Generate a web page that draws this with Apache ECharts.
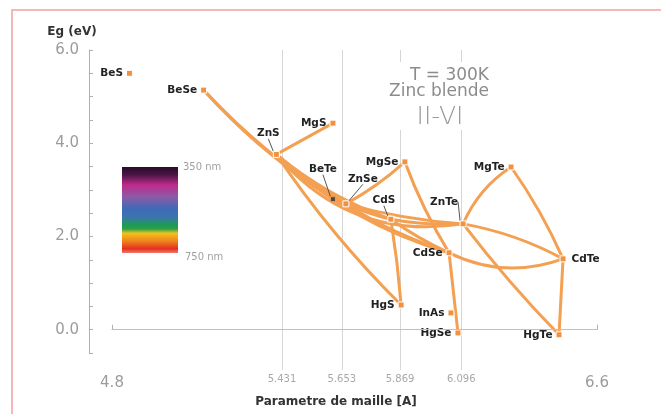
<!DOCTYPE html>
<html>
<head>
<meta charset="utf-8">
<script src="https://cdn.jsdelivr.net/npm/echarts@6/dist/echarts.min.js"></script>
<style>
  html, body { margin: 0; padding: 0; background: #fff; }
  #chart { width: 661px; height: 414px; }
</style>
</head>
<body>
<div id="chart"></div>
<script>
// II-VI zinc blende compounds: lattice constant (Å) and band gap Eg (eV) at 300 K
const compounds = ['BeS', 'BeSe', 'ZnS', 'MgS', 'BeTe', 'ZnSe', 'MgSe', 'CdS',
                   'ZnTe', 'CdSe', 'MgTe', 'CdTe', 'HgTe', 'HgSe', 'InAs', 'HgS'];
const latticeA = [4.865, 5.14, 5.41, 5.62, 5.62, 5.668, 5.887, 5.835,
                  6.103, 6.051, 6.281, 6.474, 6.459, 6.084, 6.058, 5.873];
const gapEv = [5.50, 5.14, 3.76, 4.43, 2.80, 2.70, 3.60, 2.37,
               2.27, 1.65, 3.49, 1.52, -0.11, -0.07, 0.36, 0.53];

// Ternary alloys drawn between two binary compounds
const alloyLinks = [
  ['BeSe', 'ZnSe'], ['BeSe', 'BeTe'], ['BeSe', 'CdSe'],
  ['ZnS', 'MgS'], ['ZnS', 'ZnSe'], ['ZnS', 'CdS'], ['ZnS', 'CdSe'], ['ZnS', 'HgS'], ['ZnS', 'ZnTe'],
  ['ZnSe', 'MgSe'], ['ZnSe', 'ZnTe'], ['ZnSe', 'CdSe'], ['ZnSe', 'CdS'],
  ['MgSe', 'CdSe'], ['CdS', 'CdSe'], ['CdS', 'HgS'], ['CdS', 'ZnTe'],
  ['CdSe', 'HgSe'], ['CdSe', 'CdTe'],
  ['ZnTe', 'MgTe'], ['MgTe', 'CdTe'], ['ZnTe', 'CdTe'], ['ZnTe', 'HgTe'], ['HgTe', 'CdTe']
];

// Axis ticks
const gapTicks = [0, 2, 4, 6];
const latticeEnds = [4.8, 6.6];
const latticeTicks = [5.431, 5.653, 5.869, 6.096];

// ---- drawing style ----
// bowing of each alloy curve (ECharts curveness, taken from the left end to the right end)
const linkCurveness = [
  -0.08, -0.06, -0.13,
  0, -0.05, -0.09, -0.12, -0.05, -0.28,
  -0.06, -0.05, -0.07, -0.05,
  -0.05, -0.05, 0.02, -0.06,
  0, -0.21,
  0.15, 0.05, 0.08, -0.03, 0
];
// crowded labels moved away from their marker and tied to it with a leader line
const leaderLabels = { ZnS: [-8, -21], BeTe: [-10, -30], ZnSe: [17, -25], CdS: [-7, -19], ZnTe: [-19, -22] };
const labelShift = { CdSe: [0, 3], HgTe: [0, 2], HgSe: [0, 2], HgS: [0, 3], CdTe: [0, 2] };
const rightLabels = ['CdTe'];

const ORANGE = '#f4a053';
const GRID_GREY = '#d6d6d6';
const AXIS_GREY = '#b0b0b0';

const pointOf = name => {
  const i = compounds.indexOf(name);
  return [latticeA[i], gapEv[i]];
};

const linkData = alloyLinks.map((pair, i) => {
  let a = pointOf(pair[0]);
  let b = pointOf(pair[1]);
  if (a[0] > b[0]) { const t = a; a = b; b = t; }
  return { coords: [a, b], lineStyle: { curveness: linkCurveness[i] } };
});

const pointData = compounds.map((name, i) => {
  const item = { name: name, value: [latticeA[i], gapEv[i]] };
  if (leaderLabels[name]) {
    item.label = { position: 'inside' };
    item.labelLine = { show: true };
  } else if (rightLabels.indexOf(name) >= 0) {
    item.label = { position: 'right', distance: 5, offset: labelShift[name] || [0, 0] };
  } else if (labelShift[name]) {
    item.label = { offset: labelShift[name] };
  }
  if (name === 'BeTe') {
    item.itemStyle = { color: '#4a4a4a', borderColor: ORANGE, borderWidth: 1 };
    item.symbolSize = 5;
  }
  return item;
});

const chart = echarts.init(document.getElementById('chart'), null, { renderer: 'canvas' });

chart.setOption({
  animation: false,
  backgroundColor: '#ffffff',
  grid: { left: 112, right: 64, top: 50, bottom: 61, containLabel: false },
  xAxis: [
    {
      type: 'value', min: 4.8, max: 6.6, position: 'bottom', offset: 17,
      axisLine: { show: true, lineStyle: { color: AXIS_GREY, width: 1 } },
      axisTick: { show: true, inside: true, length: 5, customValues: latticeEnds, lineStyle: { color: AXIS_GREY } },
      axisLabel: {
        customValues: latticeEnds, formatter: v => v.toFixed(1), margin: 6,
        fontFamily: 'DejaVu Sans', fontSize: 15, color: '#9c9c9c'
      },
      splitLine: { show: false },
      name: 'Parametre de maille [A]', nameLocation: 'middle', nameGap: 18,
      nameTextStyle: { fontFamily: 'DejaVu Sans', fontWeight: 'bold', fontSize: 12, color: '#333', padding: [0, 37, 0, 0] }
    },
    {
      type: 'value', min: 4.8, max: 6.6, position: 'bottom', offset: 17,
      axisLine: { show: false },
      axisTick: { show: true, inside: true, length: 17, customValues: latticeTicks, lineStyle: { color: GRID_GREY } },
      axisLabel: {
        customValues: latticeTicks, formatter: v => v.toFixed(3), margin: 4,
        fontFamily: 'DejaVu Sans', fontSize: 10, color: '#a8a8a8'
      },
      splitLine: { show: true, lineStyle: { color: GRID_GREY, width: 1 } }
    }
  ],
  yAxis: {
    type: 'value', min: -0.5, max: 6, interval: 0.5, position: 'left', offset: 23,
    axisLine: { show: true, lineStyle: { color: AXIS_GREY, width: 1 } },
    axisTick: { show: true, inside: true, length: 4, lineStyle: { color: AXIS_GREY } },
    axisLabel: {
      customValues: gapTicks, formatter: v => v.toFixed(1), margin: 10,
      fontFamily: 'DejaVu Sans', fontSize: 15, color: '#9c9c9c'
    },
    splitLine: { show: false },
    name: 'Eg (eV)', nameLocation: 'end', nameGap: 12,
    nameTextStyle: { fontFamily: 'DejaVu Sans', fontWeight: 'bold', fontSize: 12, color: '#333', align: 'center', padding: [0, 34, 0, 0] }
  },
  graphic: [
    {
      type: 'rect', silent: true, z: 0,
      shape: { x: 12, y: 10, width: 700, height: 460 },
      style: { fill: 'none', stroke: '#f2a0a0', lineWidth: 1.5 }
    },
    {
      type: 'rect', silent: true, z: 5,
      shape: { x: 122, y: 167, width: 56, height: 86 },
      style: {
        fill: {
          type: 'linear', x: 0, y: 0, x2: 0, y2: 1,
          colorStops: [
            { offset: 0.00, color: '#2a0c28' },
            { offset: 0.09, color: '#4a1444' },
            { offset: 0.21, color: '#c02b8c' },
            { offset: 0.35, color: '#8a5ca8' },
            { offset: 0.48, color: '#4169b6' },
            { offset: 0.58, color: '#3a74b0' },
            { offset: 0.67, color: '#1f9a55' },
            { offset: 0.72, color: '#2aa048' },
            { offset: 0.77, color: '#f1c21c' },
            { offset: 0.86, color: '#f0841c' },
            { offset: 0.95, color: '#e3301f' },
            { offset: 1.00, color: '#f07a70' }
          ]
        }
      }
    },
    {
      type: 'text', silent: true, z: 5, x: 183, y: 167,
      style: { text: '350 nm', fill: '#a0a0a0', fontFamily: 'DejaVu Sans', fontSize: 10,
               align: 'left', verticalAlign: 'middle', textAlign: 'left', textVerticalAlign: 'middle' }
    },
    {
      type: 'text', silent: true, z: 5, x: 185, y: 257,
      style: { text: '750 nm', fill: '#a0a0a0', fontFamily: 'DejaVu Sans', fontSize: 10,
               align: 'left', verticalAlign: 'middle', textAlign: 'left', textVerticalAlign: 'middle' }
    },
    {
      type: 'rect', silent: true, z: 5,
      shape: { x: 392, y: 62, width: 80, height: 68 },
      style: { fill: '#ffffff' }
    },
    {
      type: 'text', silent: true, z: 6, x: 489, y: 76,
      style: { text: 'T = 300K', fill: '#8c8c8c', fontFamily: 'DejaVu Sans', fontSize: 17,
               align: 'right', verticalAlign: 'middle', textAlign: 'right', textVerticalAlign: 'middle' }
    },
    {
      type: 'text', silent: true, z: 6, x: 489, y: 92,
      style: { text: 'Zinc blende', fill: '#8c8c8c', fontFamily: 'DejaVu Sans', fontSize: 17,
               align: 'right', verticalAlign: 'middle', textAlign: 'right', textVerticalAlign: 'middle' }
    },
    {
      type: 'text', silent: true, z: 6, x: 440, y: 117,
      style: { text: 'II-VI', fill: '#9a9a9a', fontFamily: 'DejaVu Sans', fontSize: 25, fontWeight: 300,
               align: 'center', verticalAlign: 'middle', textAlign: 'center', textVerticalAlign: 'middle' }
    }
  ],
  series: [
    {
      // zero band-gap reference line
      type: 'line', data: [], z: 1, xAxisIndex: 0, yAxisIndex: 0,
      markLine: {
        silent: true, symbol: ['none', 'none'], label: { show: false },
        lineStyle: { color: '#bfbfbf', width: 1, type: 'solid' },
        data: [{ yAxis: 0 }]
      }
    },
    {
      type: 'lines', coordinateSystem: 'cartesian2d', xAxisIndex: 0, yAxisIndex: 0, z: 2,
      silent: true,
      lineStyle: { color: ORANGE, width: 3, opacity: 1 },
      data: linkData
    },
    {
      type: 'scatter', xAxisIndex: 0, yAxisIndex: 0, z: 3,
      symbol: 'rect', symbolSize: 6,
      itemStyle: { color: '#f29240', borderColor: '#ffffff', borderWidth: 1, opacity: 1 },
      label: {
        show: true, formatter: '{b}', position: 'left', distance: 3,
        fontFamily: 'DejaVu Sans', fontWeight: 'bold', fontSize: 10.5, color: '#222'
      },
      labelLine: { show: false, lineStyle: { color: '#555', width: 1 } },
      labelLayout: function (params) {
        const off = leaderLabels[compounds[params.dataIndex]];
        return off ? { dx: off[0], dy: off[1] } : {};
      },
      emphasis: { disabled: true },
      data: pointData
    }
  ]
});
</script>
</body>
</html>
